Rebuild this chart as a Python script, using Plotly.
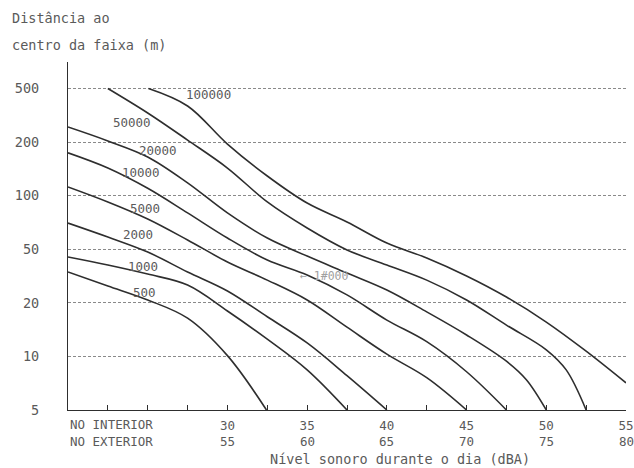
import numpy as np
import plotly.graph_objects as go

# Distance ticks (m) — the vertical axis places them at equal steps
DIST_TICKS = [5, 10, 20, 50, 100, 200, 500]
DIST_LABELS = ["5", "10", "20", "50", "100", "200", "500"]

# Day-time sound level (dBA): interior scale and matching exterior scale
INTERIOR_LEVELS = [30, 35, 40, 45, 50, 55]
EXTERIOR_LEVELS = [55, 60, 65, 70, 75, 80]

# Traffic volume of each curve
VOLUMES = [500, 1000, 2000, 5000, 10000, 20000, 50000, 100000]

# Curves: interior level (dBA) vs distance to lane centre (m)
DB_500 = [20, 22.5, 25, 27.5, 30, 32.45]
DIST_500 = [33.9, 26.7, 21.0, 16.4, 10.1, 5]

DB_1000 = [20, 22.5, 25, 27.5, 30, 32.5, 35, 37.5]
DIST_1000 = [43.8, 38.2, 32.7, 27.1, 18.0, 12.5, 8.4, 5]

DB_2000 = [20, 22.5, 25, 27.5, 30, 32.5, 35, 37.5, 40]
DIST_2000 = [70.2, 58.6, 47.7, 33.9, 24.5, 16.7, 11.9, 7.8, 5]

DB_5000 = [20, 22.5, 25, 27.5, 30, 32.5, 35, 37.5, 40, 42.5, 45]
DIST_5000 = [112, 92.2, 74.0, 56.4, 40.2, 29.5, 21.0, 14.6, 10.3, 7.6, 5]

DB_10000 = [20, 22.5, 25, 27.5, 30, 32.5, 35, 37.5, 40, 42.5, 45, 47.5]
DIST_10000 = [174, 143, 110, 80.0, 57.8, 41.6, 32.2, 22.9, 16.0, 12.1, 8.2, 5]

DB_20000 = [20, 22.5, 25, 27.5, 30, 32.5, 35, 37.5, 40, 42.5, 45, 47.5, 48.75, 50]
DIST_20000 = [259, 204, 165, 118, 80.0, 57.8, 44.5, 33.3, 24.9, 17.8, 13.2, 9.4, 7.4, 5]

DB_50000 = [22.5, 25, 27.5, 30, 32.5, 35, 37.5, 40, 42.5, 45, 47.5, 50, 51.25, 52.5]
DIST_50000 = [500, 329, 207, 143, 92.2, 65.8, 49.4, 38.2, 29.5, 21.0, 15.0, 10.9, 8.4, 5]

DB_100000 = [25.05, 27.5, 30, 32.5, 35, 37.5, 40, 42.5, 45, 47.5, 50, 52.5, 55]
DIST_100000 = [500, 371, 195, 129, 90.9, 71.2, 54.2, 43.1, 31.7, 22.1, 15.6, 10.7, 7.1]

CURVES = {
    500: (DB_500, DIST_500),
    1000: (DB_1000, DIST_1000),
    2000: (DB_2000, DIST_2000),
    5000: (DB_5000, DIST_5000),
    10000: (DB_10000, DIST_10000),
    20000: (DB_20000, DIST_20000),
    50000: (DB_50000, DIST_50000),
    100000: (DB_100000, DIST_100000),
}

FONT = "DejaVu Sans Mono"
TEXT = "#5a5a5a"
INK = "#2e2e2e"
FS = 13.5
FS_X = 12.5


def dist_to_axis(d):
    """Map distances onto the stepped vertical scale (one step per tick)."""
    return np.interp(np.log10(d), np.log10(DIST_TICKS), np.arange(len(DIST_TICKS)))


fig = go.Figure()
for vol in VOLUMES:
    db, dist = CURVES[vol]
    fig.add_trace(go.Scatter(
        x=db, y=dist_to_axis(dist), mode="lines", name=str(vol),
        line=dict(color=INK, width=1.6, shape="spline", smoothing=1.0),
        hoverinfo="skip", showlegend=False,
    ))

# Curve labels (positions in axis units)
label_pos = {
    100000: (28.84, 5.88),
    50000: (24.04, 5.375),
    20000: (25.62, 4.85),
    10000: (24.6, 4.44),
    5000: (24.8, 3.77),
    2000: (24.4, 3.27),
    1000: (24.7, 2.67),
    500: (24.8, 2.20),
}
annotations = []
for vol in VOLUMES:
    x, y = label_pos[vol]
    annotations.append(dict(x=x, y=y, xref="x", yref="y", text=str(vol), showarrow=False,
                            font=dict(family=FONT, size=12.5, color=TEXT)))
annotations.append(dict(x=36.1, y=2.50, xref="x", yref="y", text="← 1#000", showarrow=False,
                        font=dict(family=FONT, size=11.5, color="#a0a0a0")))

# Exterior-level row under the interior tick labels
ROW2 = -0.0891
for ext, intr in zip(EXTERIOR_LEVELS, INTERIOR_LEVELS):
    annotations.append(dict(x=intr, y=ROW2, xref="x", yref="paper", text=str(ext),
                            showarrow=False, xanchor="center", yanchor="middle",
                            font=dict(family=FONT, size=FS_X, color=TEXT)))

annotations += [
    dict(x=0, y=-0.0431, xref="paper", yref="paper", text="NO INTERIOR",
         showarrow=False, xanchor="left", yanchor="middle",
         font=dict(family=FONT, size=FS_X, color=TEXT)),
    dict(x=0, y=ROW2, xref="paper", yref="paper", text="NO EXTERIOR",
         showarrow=False, xanchor="left", yanchor="middle",
         font=dict(family=FONT, size=FS_X, color=TEXT)),
    dict(x=0.595, y=-0.1408, xref="paper", yref="paper",
         text="Nível sonoro durante o dia (dBA)", showarrow=False,
         xanchor="center", yanchor="middle",
         font=dict(family=FONT, size=FS, color=TEXT)),
    # vertical-axis title, two lines at the top left
    dict(x=-0.104, y=1.126, xref="paper", yref="paper", text="Distância ao",
         showarrow=False, xanchor="left", yanchor="middle",
         font=dict(family=FONT, size=FS, color=TEXT)),
    dict(x=-0.104, y=1.049, xref="paper", yref="paper", text="centro da faixa (m)",
         showarrow=False, xanchor="left", yanchor="middle",
         font=dict(family=FONT, size=FS, color=TEXT)),
]

# x ticks every 2.5 dBA, labelled every 5 with the interior level
x_tickvals = list(np.arange(22.5, 55.01, 2.5))
x_ticktext = [str(int(v)) if v in INTERIOR_LEVELS else "" for v in x_tickvals]

fig.update_layout(
    width=634, height=468, autosize=False,
    margin=dict(l=68, r=8, t=62, b=58, autoexpand=False),
    paper_bgcolor="white", plot_bgcolor="white",
    annotations=annotations,
    xaxis=dict(
        range=[20, 55], showgrid=False, zeroline=False, automargin=False,
        showline=True, linecolor=INK, linewidth=1.3,
        tickmode="array", tickvals=x_tickvals, ticktext=x_ticktext,
        ticks="inside", ticklen=5, tickcolor=INK, tickwidth=1,
        ticklabelstandoff=4,
        tickfont=dict(family=FONT, size=FS_X, color=TEXT),
    ),
    yaxis=dict(
        range=[0, 6.495], zeroline=False, automargin=False,
        showline=True, linecolor=INK, linewidth=1.3,
        tickmode="array", tickvals=list(range(len(DIST_TICKS))), ticktext=DIST_LABELS,
        ticks="", ticklabelstandoff=25,
        tickfont=dict(family=FONT, size=FS, color=TEXT),
        showgrid=True, gridcolor="#8a8a8a", gridwidth=1, griddash="3px,2px",
    ),
)

fig.write_html("out.html")
